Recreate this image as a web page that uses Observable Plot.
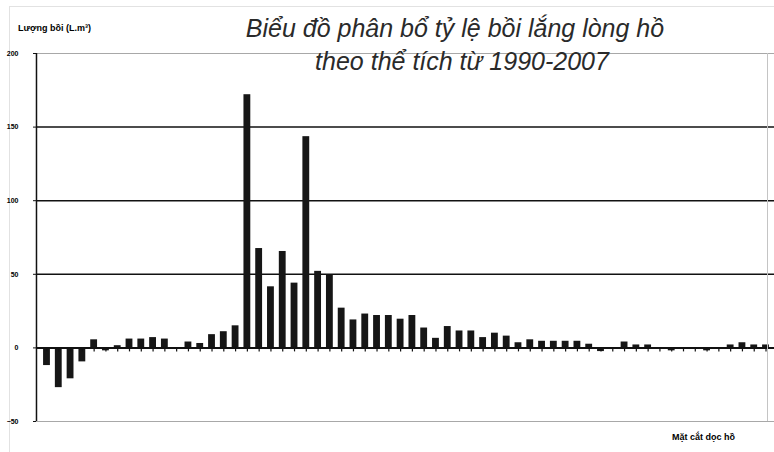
<!DOCTYPE html>
<html>
<head>
<meta charset="utf-8">
<script src="https://cdn.jsdelivr.net/npm/d3@7"></script>
<script src="https://cdn.jsdelivr.net/npm/@observablehq/plot@0.6"></script>
<style>
  html, body { margin: 0; padding: 0; background: #fff; }
  #wrap { position: relative; width: 774px; height: 452px; overflow: hidden; font-family: "Liberation Sans", Arial, sans-serif; }
  #wrap svg { position: absolute; left: 0; top: 0; }
  .title { position: absolute; left: 0; width: 920px; text-align: center; font-style: italic; font-size: 25px; color: #2a2a2a; white-space: nowrap; }
  .lbl { position: absolute; font-weight: bold; font-size: 9px; color: #000; white-space: nowrap; }
  .border-l { position: absolute; left: 9px; top: 6px; width: 1px; height: 446px; background: #e2e2e2; }
  .border-t { position: absolute; left: 9px; top: 6px; width: 765px; height: 1px; background: #e2e2e2; }
</style>
</head>
<body>
<div id="wrap"></div>
<script>
// Section index along the reservoir (categories)
const values = [-12, -27, -21, -9.5, 5.5, -2, 1.5, 6, 6, 7, 6, -0.5, 4, 3, 9, 11, 15,
  172, 67.5, 41.5, 65.5, 44, 143.5, 52, 49.5, 27, 19, 23, 22, 22, 19.5, 22, 13.5,
  6.5, 14.5, 11.5, 11.5, 7, 10, 8, 3.5, 5.5, 4.5, 4.5, 4.5, 4.5, 2.5, -2.5, -0.5,
  4, 2, 2, -1, -2, -0.5, -0.5, -2, -1, 2, 3.5, 2, 2];
const categories = values.map((_, i) => i + 1);
const yTicks = [-50, 0, 50, 100, 150, 200];
const gridTicks = [50, 100, 150];
const borderTicks = [-50, 200];
const titleLines = ["Biểu đồ phân bổ tỷ lệ bồi lắng lòng hồ", "theo thể tích từ 1990-2007"];
const yLabel = "Lượng bồi (L.m³)";
const xLabel = "Mặt cắt dọc hồ";

const data = categories.map((c, i) => ({cat: c, v: values[i]}));

const chart = Plot.plot({
  width: 774,
  height: 452,
  marginTop: 53,
  marginBottom: 31,
  marginLeft: 36,
  marginRight: 0,
  style: {background: "transparent", fontFamily: "Liberation Sans, Arial, sans-serif", overflow: "visible"},
  x: {type: "band", domain: categories, range: [36, 776], paddingInner: 0.42, paddingOuter: 0.6, axis: null},
  y: {domain: [-50, 200]},
  marks: [
    Plot.ruleY(borderTicks, {stroke: "#a8a8a8", strokeWidth: 1.2}),
    Plot.ruleY(gridTicks, {stroke: "#111", strokeWidth: 1.5}),
    Plot.barY(data, {x: "cat", y: "v", fill: "#161616"}),
    Plot.ruleX(data, {x: "cat", y1: 0, y2: 0, insetTop: 0, insetBottom: -4, stroke: "#111", strokeWidth: 1.2}),
    Plot.ruleY([0], {stroke: "#111", strokeWidth: 2}),
    Plot.ruleX([categories[0]], {x: d => d, y1: -50, y2: 200, dx: -10.5, stroke: "#111", strokeWidth: 1.5}),
    Plot.ruleX([categories[categories.length - 1]], {x: d => d, y1: -50, y2: 200, dx: 1.5, stroke: "#c4c4c4", strokeWidth: 1}),
    Plot.axisY({ticks: yTicks, tickSize: 3, tickPadding: 15, fontSize: 7, fontWeight: "bold", fill: "#000", label: null, stroke: "#111"})
  ]
});

const wrap = document.getElementById("wrap");
const bl = document.createElement("div"); bl.className = "border-l"; wrap.appendChild(bl);
const bt = document.createElement("div"); bt.className = "border-t"; wrap.appendChild(bt);
wrap.appendChild(chart);

const t1 = document.createElement("div");
t1.className = "title"; t1.textContent = titleLines[0];
t1.style.top = "14px"; t1.style.left = "-5px";
wrap.appendChild(t1);
const t2 = document.createElement("div");
t2.className = "title"; t2.textContent = titleLines[1];
t2.style.top = "47px"; t2.style.left = "2px";
wrap.appendChild(t2);

const yl = document.createElement("div");
yl.className = "lbl"; yl.textContent = yLabel;
yl.style.left = "18px"; yl.style.top = "23px";
wrap.appendChild(yl);
const xl = document.createElement("div");
xl.className = "lbl"; xl.textContent = xLabel;
xl.style.left = "672px"; xl.style.top = "432px";
wrap.appendChild(xl);
</script>
</body>
</html>
